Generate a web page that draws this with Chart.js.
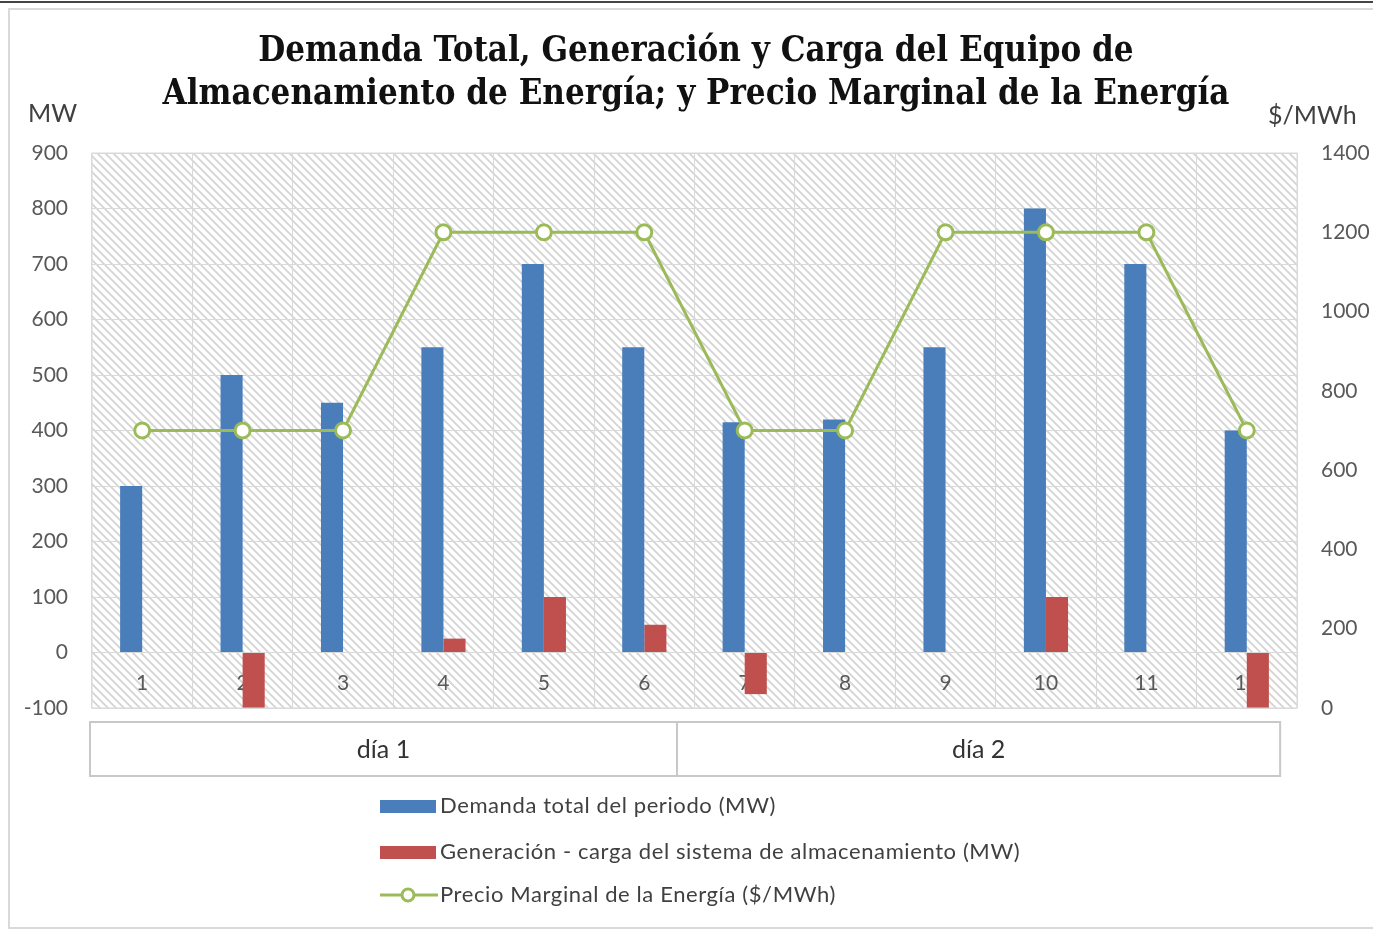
<!DOCTYPE html>
<html>
<head>
<meta charset="utf-8">
<script src="https://cdn.jsdelivr.net/npm/chart.js@4"></script>
<style>
  body { margin: 0; background: #fff; }
  #wrap { width: 1373px; height: 931px; }
</style>
</head>
<body>
<div id="wrap"><canvas id="myChart" width="1373" height="931"></canvas></div>
<script>
const periods = ['1', '2', '3', '4', '5', '6', '7', '8', '9', '10', '11', '12'];
const days = ['día 1', 'día 2'];
const demanda = [300, 500, 450, 550, 700, 550, 415, 420, 550, 800, 700, 400];
const generacion = [0, -100, 0, 25, 100, 50, -75, 0, 0, 100, 0, -100];
const precio = [700, 700, 700, 1200, 1200, 1200, 700, 700, 1200, 1200, 1200, 700];
const titleLines = ['Demanda Total, Generación y Carga del Equipo de', 'Almacenamiento de Energía; y Precio Marginal de la Energía'];

const blue = '#4a7ebb';
const red = '#c0504d';
const green = '#9bbb59';

function hatch() {
  const c = document.createElement('canvas');
  c.width = 8; c.height = 8;
  const g = c.getContext('2d');
  g.fillStyle = '#fff';
  g.fillRect(0, 0, 8, 8);
  g.strokeStyle = '#d4d4d4';
  g.lineWidth = 1.8;
  g.beginPath();
  g.moveTo(-2, -2); g.lineTo(10, 10);
  g.moveTo(-2, 6); g.lineTo(2, 10);
  g.moveTo(6, -2); g.lineTo(10, 2);
  g.stroke();
  return c;
}

// pick a title font size so the first line is as wide as in the picture
function titleFont(ctx) {
  const fam = '"DejaVu Serif Condensed", "Liberation Serif", serif';
  ctx.font = 'bold 30px ' + fam;
  const w = ctx.measureText(titleLines[0]).width;
  return 'bold ' + (30 * 875 / w).toFixed(1) + 'px ' + fam;
}

const decor = {
  id: 'decor',
  beforeDraw(chart) {
    const ctx = chart.ctx;
    const a = chart.chartArea;
    ctx.save();
    ctx.fillStyle = '#fff';
    ctx.fillRect(0, 0, chart.width, chart.height);
    ctx.strokeStyle = '#d9d9d9';
    ctx.lineWidth = 2;
    ctx.strokeRect(9, 9, chart.width + 10, 919);
    ctx.strokeStyle = '#444';
    ctx.beginPath(); ctx.moveTo(0, 2); ctx.lineTo(chart.width, 2); ctx.stroke();
    ctx.fillStyle = ctx.createPattern(hatch(), 'repeat');
    ctx.fillRect(a.left, a.top, a.right - a.left, a.bottom - a.top);
    ctx.restore();
  },
  beforeDatasetsDraw(chart) {
    const ctx = chart.ctx;
    const x = chart.scales.x;
    const y = chart.scales.y;
    ctx.save();
    ctx.fillStyle = '#595959';
    ctx.font = '21px Lato';
    ctx.textAlign = 'center';
    ctx.textBaseline = 'middle';
    periods.forEach((p, i) => {
      ctx.fillText(p, x.getPixelForValue(i), y.getPixelForValue(-55));
    });
    ctx.restore();
  },
  afterDraw(chart) {
    const ctx = chart.ctx;
    const a = chart.chartArea;
    const w = a.right - a.left;
    ctx.save();
    ctx.strokeStyle = '#d9d9d9';
    ctx.lineWidth = 1;
    ctx.strokeRect(a.left, a.top, w, a.bottom - a.top);
    // title
    ctx.fillStyle = '#111';
    ctx.textAlign = 'center';
    ctx.textBaseline = 'middle';
    ctx.font = titleFont(ctx);
    ctx.fillText(titleLines[0], 696, 52);
    ctx.fillText(titleLines[1], 696, 95);
    // axis units
    ctx.fillStyle = '#404040';
    ctx.font = '25px Lato';
    ctx.textAlign = 'left';
    ctx.fillText('MW', 28, 114);
    ctx.fillText('$/MWh', 1268, 116);
    // day boxes
    const edges = [a.left - 2, a.left + w * 0.4855, a.left + w * 0.986];
    ctx.strokeStyle = '#c8c8c8';
    ctx.lineWidth = 2;
    ctx.font = '25px Lato';
    ctx.fillStyle = '#333';
    ctx.textAlign = 'center';
    days.forEach((d, i) => {
      ctx.strokeRect(edges[i], a.bottom + 14, edges[i + 1] - edges[i], 54);
      ctx.fillText(d, (edges[i] + edges[i + 1]) / 2, a.bottom + 42);
    });
    // legend
    const rows = [806, 852, 895];
    ctx.font = '22px Lato';
    ctx.letterSpacing = '0.6px';
    ctx.textAlign = 'left';
    chart.data.datasets.forEach((ds, i) => {
      const yy = rows[i];
      if (ds.type === 'line') {
        ctx.strokeStyle = ds.borderColor;
        ctx.lineWidth = 3;
        ctx.beginPath(); ctx.moveTo(380, yy); ctx.lineTo(438, yy); ctx.stroke();
        ctx.fillStyle = '#fff';
        ctx.beginPath(); ctx.arc(408, yy, 6, 0, Math.PI * 2); ctx.fill(); ctx.stroke();
      } else {
        ctx.fillStyle = ds.backgroundColor;
        ctx.fillRect(380, yy - 6, 56, 13);
      }
      ctx.fillStyle = '#404040';
      ctx.fillText(ds.label, 440, yy);
    });
    ctx.restore();
  }
};

const ctx = document.getElementById('myChart');
new Chart(ctx, {
  type: 'bar',
  data: {
    labels: periods,
    datasets: [
      {
        label: 'Demanda total del periodo (MW)',
        data: demanda,
        backgroundColor: blue,
        yAxisID: 'y',
        categoryPercentage: 0.44,
        barPercentage: 1,
        order: 1
      },
      {
        label: 'Generación - carga del sistema de almacenamiento (MW)',
        data: generacion,
        backgroundColor: red,
        yAxisID: 'y',
        categoryPercentage: 0.44,
        barPercentage: 1,
        order: 2
      },
      {
        type: 'line',
        label: 'Precio Marginal de la Energía ($/MWh)',
        data: precio,
        yAxisID: 'y1',
        borderColor: green,
        borderWidth: 3,
        pointRadius: 7.5,
        pointBorderWidth: 3,
        pointBackgroundColor: '#fff',
        pointBorderColor: green,
        tension: 0,
        order: 0
      }
    ]
  },
  options: {
    responsive: false,
    animation: false,
    layout: { padding: { top: 153, left: 20, right: 0, bottom: 223 } },
    plugins: {
      legend: { display: false },
      title: { display: false },
      tooltip: { enabled: false }
    },
    scales: {
      x: {
        ticks: { display: false },
        grid: { color: '#d9d9d9', drawTicks: false, offset: true },
        border: { display: false },
        afterFit(scale) { scale.height = 0; }
      },
      y: {
        position: 'left',
        min: -100,
        max: 900,
        ticks: { stepSize: 100, color: '#595959', font: { family: 'Lato', size: 21 }, padding: 24 },
        grid: { color: '#d9d9d9', drawTicks: false },
        border: { display: false },
        afterFit(scale) { scale.width = 72; }
      },
      y1: {
        position: 'right',
        min: 0,
        max: 1400,
        ticks: {
          stepSize: 200, color: '#595959', font: { family: 'Lato', size: 21 }, padding: 24,
          callback: v => String(v)
        },
        grid: { display: false, drawTicks: false },
        border: { display: false },
        afterFit(scale) { scale.width = 76; }
      }
    }
  },
  plugins: [decor]
});
</script>
</body>
</html>
